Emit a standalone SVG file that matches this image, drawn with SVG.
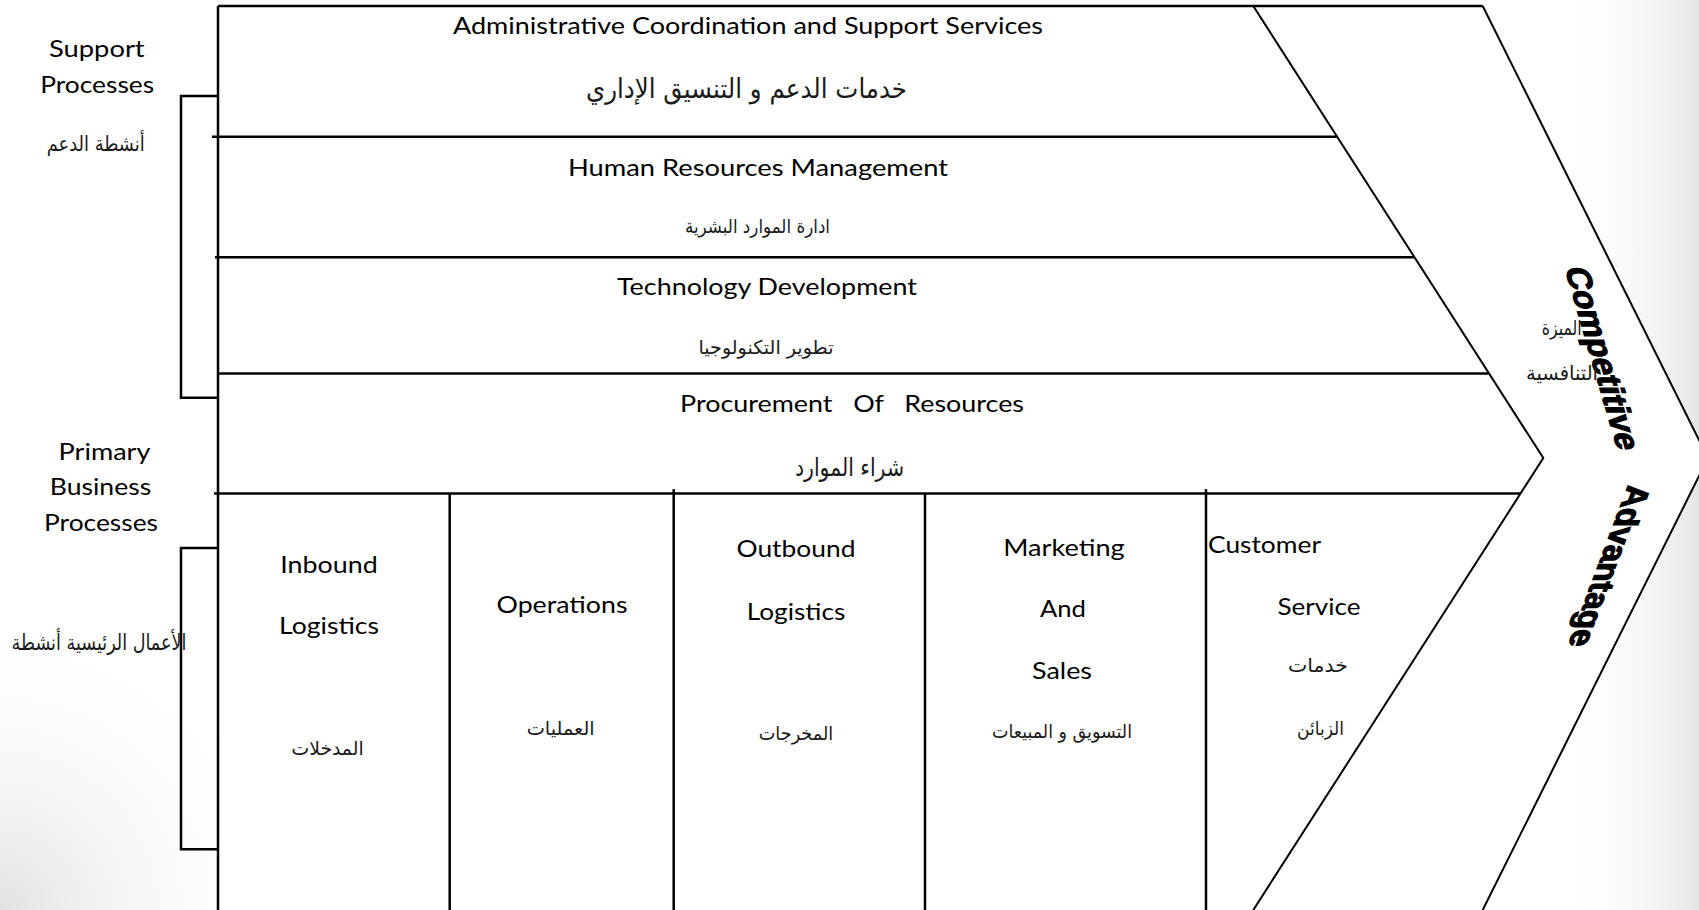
<svg xmlns="http://www.w3.org/2000/svg" width="1699" height="910" viewBox="0 0 1699 910">
  <defs>
    <linearGradient id="shadeR" gradientUnits="userSpaceOnUse" x1="1560" y1="0" x2="1699" y2="0">
      <stop offset="0" stop-color="#ffffff" stop-opacity="0"/>
      <stop offset="1" stop-color="#e6e6e6" stop-opacity="1"/>
    </linearGradient>
    <radialGradient id="shadeBL" gradientUnits="userSpaceOnUse" cx="0" cy="910" r="300">
      <stop offset="0" stop-color="#e2e2e2" stop-opacity="1"/>
      <stop offset="1" stop-color="#ffffff" stop-opacity="0"/>
    </radialGradient>
    <style>
      .ln { stroke: #000; stroke-width: 2.5; fill: none; }
      .dg { stroke: #000; stroke-width: 2; fill: none; stroke-linejoin: miter; }
      .en { font-family: Lato, "Liberation Sans", sans-serif; font-size: 24px; fill: #000; text-anchor: middle; }
      .ar { font-family: "DejaVu Sans", sans-serif; font-size: 19px; fill: #1a1a1a; text-anchor: middle; }
      .ca { font-family: "Liberation Sans", Arial, sans-serif; font-weight: bold; font-size: 34px; fill: #000; stroke: #000; stroke-width: 1.3; text-anchor: middle; }
    </style>
  </defs>

  <g id="background">
    <rect width="1699" height="910" fill="#ffffff"/>
    <rect x="1560" y="0" width="139" height="910" fill="url(#shadeR)"/>
    <rect x="0" y="600" width="320" height="310" fill="url(#shadeBL)"/>
    <polygon points="218,6 1482.7,6 1708,458 1482.7,910 218,910" fill="#ffffff"/>
  </g>

  <g id="frame">
    <path class="ln" d="M218,6 H1482.7"/>
    <path class="dg" d="M1482.7,6 L1708,458 L1482.7,910"/>
    <path class="dg" d="M1253.3,6 L1543.3,458 L1253.3,910"/>
    <path class="ln" d="M218,6 V910"/>
    <path class="ln" d="M212,136.7 H1337.2"/>
    <path class="ln" d="M215,257.3 H1414.5"/>
    <path class="ln" d="M218,373.5 H1489.1"/>
    <path class="ln" d="M214,493.5 H1520.5"/>
    <path class="ln" d="M449.7,493.5 V910"/>
    <path class="ln" d="M673.7,489 V910"/>
    <path class="ln" d="M925,493.5 V910"/>
    <path class="ln" d="M1206,489 V910"/>
  </g>

  <g id="connectors">
    <path class="ln" d="M218,96 H181 V397.7 H218"/>
    <path class="ln" d="M218,548 H181 V849.3 H218"/>
  </g>

  <g id="node-support-label">
    <text class="en" x="96.8" y="56.7" textLength="95.7" lengthAdjust="spacingAndGlyphs">Support</text>
    <text class="en" x="97.2" y="92.7" textLength="114" lengthAdjust="spacingAndGlyphs">Processes</text>
    <text class="ar" x="95.7" y="151" style="font-size:21px" textLength="98" lengthAdjust="spacingAndGlyphs">أنشطة الدعم</text>
  </g>

  <g id="node-primary-label">
    <text class="en" x="104.5" y="460" textLength="91.8" lengthAdjust="spacingAndGlyphs">Primary</text>
    <text class="en" x="100.5" y="495" textLength="101.4" lengthAdjust="spacingAndGlyphs">Business</text>
    <text class="en" x="101" y="531" textLength="114" lengthAdjust="spacingAndGlyphs">Processes</text>
    <text class="ar" x="99" y="650" style="font-size:22px" textLength="175" lengthAdjust="spacingAndGlyphs">الأعمال الرئيسية أنشطة</text>
  </g>

  <g id="node-admin">
    <text class="en" x="748" y="34" textLength="590" lengthAdjust="spacingAndGlyphs">Administrative Coordination and Support Services</text>
    <text class="ar" x="746.5" y="98" style="font-size:27px" textLength="321" lengthAdjust="spacingAndGlyphs">خدمات الدعم و التنسيق الإداري</text>
  </g>

  <g id="node-hr">
    <text class="en" x="758" y="176" textLength="380" lengthAdjust="spacingAndGlyphs">Human Resources Management</text>
    <text class="ar" x="757.5" y="233" style="font-size:19px" textLength="145" lengthAdjust="spacingAndGlyphs">ادارة الموارد البشرية</text>
  </g>

  <g id="node-tech">
    <text class="en" x="767" y="295" textLength="300" lengthAdjust="spacingAndGlyphs">Technology Development</text>
    <text class="ar" x="766" y="354" style="font-size:19px" textLength="135" lengthAdjust="spacingAndGlyphs">تطوير التكنولوجيا</text>
  </g>

  <g id="node-procurement">
    <text class="en" x="852" y="411.5" textLength="344" lengthAdjust="spacingAndGlyphs" xml:space="preserve">Procurement   Of   Resources</text>
    <text class="ar" x="849.5" y="476" style="font-size:25px" textLength="109" lengthAdjust="spacingAndGlyphs">شراء الموارد</text>
  </g>

  <g id="node-inbound">
    <text class="en" x="329" y="573" textLength="97.5" lengthAdjust="spacingAndGlyphs">Inbound</text>
    <text class="en" x="329" y="634" textLength="100" lengthAdjust="spacingAndGlyphs">Logistics</text>
    <text class="ar" x="327.6" y="755" textLength="72" lengthAdjust="spacingAndGlyphs">المدخلات</text>
  </g>

  <g id="node-operations">
    <text class="en" x="562" y="613" textLength="131" lengthAdjust="spacingAndGlyphs">Operations</text>
    <text class="ar" x="560.7" y="735" textLength="68" lengthAdjust="spacingAndGlyphs">العمليات</text>
  </g>

  <g id="node-outbound">
    <text class="en" x="796" y="557" textLength="119" lengthAdjust="spacingAndGlyphs">Outbound</text>
    <text class="en" x="796" y="620" textLength="98.5" lengthAdjust="spacingAndGlyphs">Logistics</text>
    <text class="ar" x="796" y="740" textLength="74.5" lengthAdjust="spacingAndGlyphs">المخرجات</text>
  </g>

  <g id="node-marketing">
    <text class="en" x="1064" y="556" textLength="121.5" lengthAdjust="spacingAndGlyphs">Marketing</text>
    <text class="en" x="1063" y="617" textLength="46" lengthAdjust="spacingAndGlyphs">And</text>
    <text class="en" x="1062" y="679" textLength="60" lengthAdjust="spacingAndGlyphs">Sales</text>
    <text class="ar" x="1062" y="738" textLength="140" lengthAdjust="spacingAndGlyphs">التسويق و المبيعات</text>
  </g>

  <g id="node-customer">
    <text class="en" x="1208" y="553" textLength="113" lengthAdjust="spacingAndGlyphs" style="text-anchor:start">Customer</text>
    <text class="en" x="1319" y="615" textLength="83" lengthAdjust="spacingAndGlyphs">Service</text>
    <text class="ar" x="1318" y="672" textLength="60" lengthAdjust="spacingAndGlyphs">خدمات</text>
    <text class="ar" x="1320.5" y="735" textLength="47" lengthAdjust="spacingAndGlyphs">الزبائن</text>
  </g>

  <g id="node-competitive">
    <text class="ca" transform="translate(1591,358.5) rotate(90) skewY(-16.2)" x="0" y="0" textLength="183" lengthAdjust="spacingAndGlyphs">Competitive</text>
    <text class="ca" transform="translate(1598,565.8) rotate(90) skewY(20.5)" x="0" y="0" textLength="161.7" lengthAdjust="spacingAndGlyphs">Advantage</text>
    <text class="ar" x="1561.7" y="335" style="font-size:20px" textLength="40" lengthAdjust="spacingAndGlyphs">الميزة</text>
    <text class="ar" x="1562" y="380" style="font-size:20px" textLength="72" lengthAdjust="spacingAndGlyphs">التنافسية</text>
  </g>
</svg>
